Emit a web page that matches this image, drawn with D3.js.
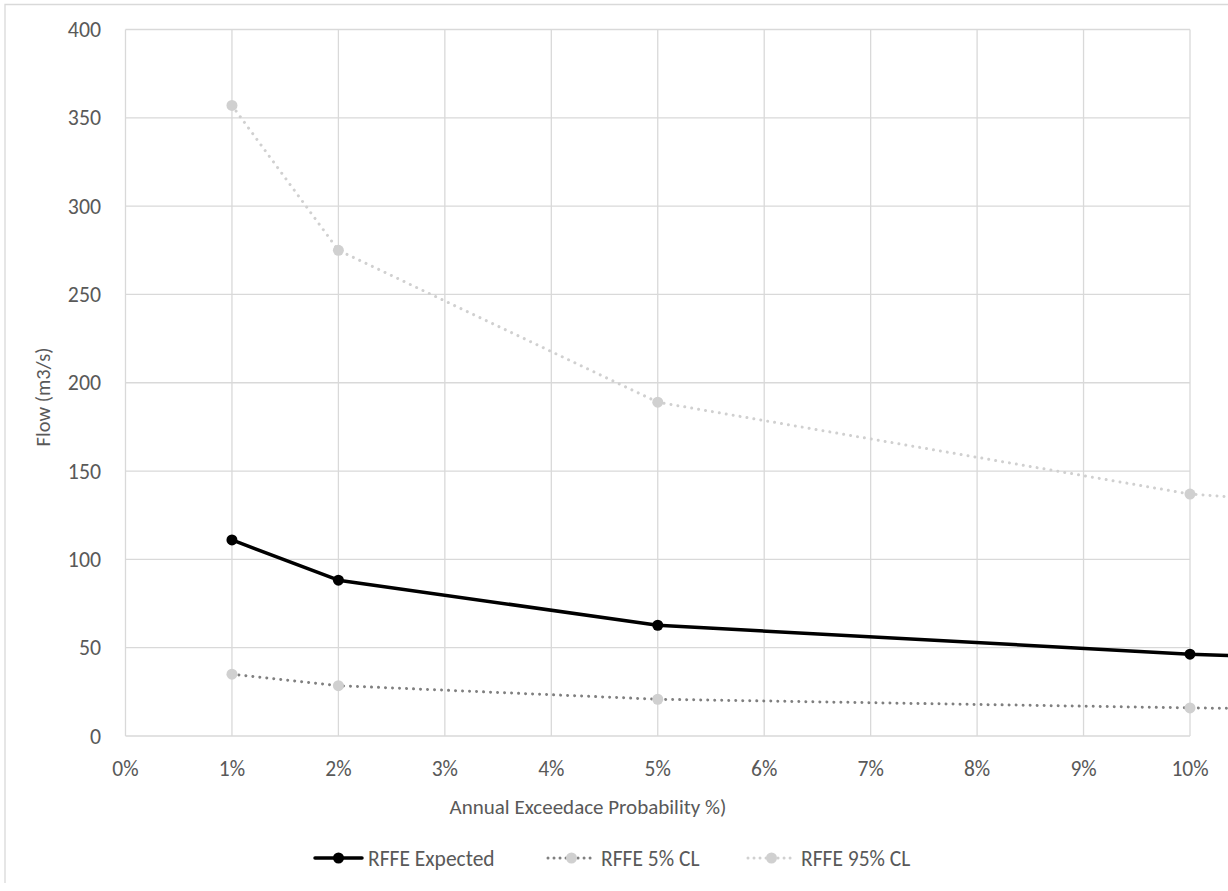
<!DOCTYPE html>
<html>
<head>
<meta charset="utf-8">
<script src="https://cdn.jsdelivr.net/npm/d3@7"></script>
<style>
  body { margin: 0; background: #fff; }
  svg { display: block; font-family: Calibri, Carlito, Lato, sans-serif; }
</style>
</head>
<body>
<div class="main-container"></div>
<script>
// annual exceedance probability (%) of each estimate
const aep = [1, 2, 5, 10, 20];
const expectedFlow = [111, 88.2, 62.7, 46.3, 28];
const lowerFlow = [35, 28.5, 20.8, 15.9, 10];
const upperFlow = [357, 275, 189, 137, 95];
const xTicks = [0, 1, 2, 3, 4, 5, 6, 7, 8, 9, 10];
const yTicks = [0, 50, 100, 150, 200, 250, 300, 350, 400];
const seriesNames = ["RFFE Expected", "RFFE 5% CL", "RFFE 95% CL"];

const width = 1228;
const height = 891;
const margin = { top: 29.5, left: 125.5, right: 38, bottom: 155 };

const svg = d3.select(".main-container")
    .append("svg")
    .attr("width", width)
    .attr("height", height);

// chart border (top and left visible, rest is cut off)
svg.append("path")
    .attr("d", "M5,883 V4.5 H1228")
    .attr("fill", "none")
    .attr("stroke", "#d9d9d9")
    .attr("stroke-width", 1.3);

const x = d3.scaleLinear()
    .domain([0, 10])
    .range([margin.left, width - margin.right]);

const y = d3.scaleLinear()
    .domain([0, 400])
    .range([height - margin.bottom, margin.top]);

// gridlines
svg.append("g")
    .selectAll("line")
    .data(yTicks)
    .enter()
    .append("line")
    .attr("x1", x(0))
    .attr("x2", x(10))
    .attr("y1", d => y(d))
    .attr("y2", d => y(d))
    .attr("stroke", "#d9d9d9")
    .attr("stroke-width", 1.3);

svg.append("g")
    .selectAll("line")
    .data(xTicks)
    .enter()
    .append("line")
    .attr("x1", d => x(d))
    .attr("x2", d => x(d))
    .attr("y1", y(0))
    .attr("y2", y(400))
    .attr("stroke", "#d9d9d9")
    .attr("stroke-width", 1.3);

// tick labels
svg.append("g")
    .selectAll("text")
    .data(yTicks)
    .enter()
    .append("text")
    .attr("x", 101)
    .attr("y", d => y(d))
    .attr("dy", "0.35em")
    .attr("text-anchor", "end")
    .attr("fill", "#595959")
    .style("font-size", "21.8px")
    .text(d => d);

svg.append("g")
    .selectAll("text")
    .data(xTicks)
    .enter()
    .append("text")
    .attr("x", d => x(d))
    .attr("y", 768)
    .attr("dy", "0.35em")
    .attr("text-anchor", "middle")
    .attr("fill", "#595959")
    .style("font-size", "21.5px")
    .text(d => d + "%");

// axis titles
svg.append("text")
    .attr("x", 588)
    .attr("y", 807)
    .attr("dy", "0.35em")
    .attr("text-anchor", "middle")
    .attr("fill", "#595959")
    .style("font-size", "21px")
    .text("Annual Exceedace Probability %)");

svg.append("text")
    .attr("transform", "translate(43,397) rotate(-90)")
    .attr("dy", "0.35em")
    .attr("text-anchor", "middle")
    .attr("fill", "#595959")
    .style("font-size", "20.5px")
    .text("Flow (m3/s)");

const series = [
    { name: seriesNames[0], values: expectedFlow, line: "#000000", marker: "#000000", width: 3.5, dash: null },
    { name: seriesNames[1], values: lowerFlow, line: "#7f7f7f", marker: "#d0d0d0", width: 3, dash: "0.01 7" },
    { name: seriesNames[2], values: upperFlow, line: "#d0d0d0", marker: "#d0d0d0", width: 3, dash: "0.01 7" }
];

const line = d3.line()
    .x(d => x(d[0]))
    .y(d => y(d[1]));

// draw the confidence limits first, expected on top
[series[2], series[1], series[0]].forEach(s => {
    const pts = aep.map((a, i) => [a, s.values[i]]);
    svg.append("path")
        .datum(pts)
        .attr("d", line)
        .attr("fill", "none")
        .attr("stroke", s.line)
        .attr("stroke-width", s.width)
        .attr("stroke-linecap", "round")
        .attr("stroke-linejoin", "round")
        .attr("stroke-dasharray", s.dash);
    svg.append("g")
        .selectAll("circle")
        .data(pts)
        .enter()
        .append("circle")
        .attr("cx", d => x(d[0]))
        .attr("cy", d => y(d[1]))
        .attr("r", 5.5)
        .attr("fill", s.marker);
});

// legend
const legendX = [315, 548, 748];
const legendY = 858;
series.forEach((s, i) => {
    const g = svg.append("g").attr("transform", "translate(" + legendX[i] + "," + legendY + ")");
    g.append("line")
        .attr("x1", 0)
        .attr("x2", 47)
        .attr("stroke", s.line)
        .attr("stroke-width", s.width)
        .attr("stroke-linecap", "round")
        .attr("stroke-dasharray", s.dash ? "0.01 6" : null);
    g.append("circle")
        .attr("cx", 23.5)
        .attr("r", 5.5)
        .attr("fill", s.marker);
    g.append("text")
        .attr("x", 53)
        .attr("dy", "0.35em")
        .attr("fill", "#595959")
        .style("font-size", "21.5px")
        .text(s.name);
});
</script>
</body>
</html>
